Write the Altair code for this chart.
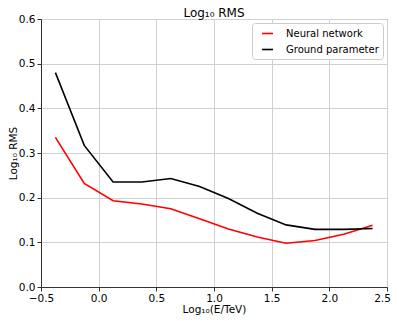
import altair as alt
import pandas as pd

energy = [-0.375, -0.125, 0.125, 0.375, 0.625, 0.875, 1.125, 1.375, 1.625, 1.875, 2.125, 2.375]
neural = [0.335, 0.232, 0.193, 0.186, 0.175, 0.153, 0.130, 0.112, 0.098, 0.104, 0.118, 0.138]
ground = [0.480, 0.317, 0.235, 0.235, 0.243, 0.225, 0.198, 0.165, 0.139, 0.129, 0.129, 0.131]
series_names = ["Neural network", "Ground parameter"]
colors = ["#ff0000", "#000000"]

rows = []
for e, v in zip(energy, neural):
    rows.append({"x": e, "y": v, "s": series_names[0]})
for e, v in zip(energy, ground):
    rows.append({"x": e, "y": v, "s": series_names[1]})
df = pd.DataFrame(rows)

font = "DejaVu Sans"

chart = alt.Chart(df).mark_line(strokeWidth=1.6).encode(
    x=alt.X("x:Q", scale=alt.Scale(domain=[-0.5, 2.5], nice=False, zero=False),
            axis=alt.Axis(title="Log₁₀(E/TeV)", values=[-0.5, 0.0, 0.5, 1.0, 1.5, 2.0, 2.5],
                          format=".1f", labelFlush=False, titlePadding=1,
                          labelOffset={"condition": {"test": "datum.value >= 2.4", "value": -5},
                                       "value": 0})),
    y=alt.Y("y:Q", scale=alt.Scale(domain=[0, 0.6], nice=False),
            axis=alt.Axis(title="Log₁₀ RMS", values=[0, 0.1, 0.2, 0.3, 0.4, 0.5, 0.6],
                          format=".1f", labelFlush=False, titlePadding=0)),
    color=alt.Color("s:N", scale=alt.Scale(domain=series_names, range=colors),
                    legend=alt.Legend(title=None, orient="top-right", symbolType="M-1,0H1",
                                      symbolStrokeWidth=1.6, symbolSize=121,
                                      strokeColor="#cccccc", fillColor="white",
                                      padding=4, labelFontSize=10, labelFont=font,
                                      labelOffset=12, symbolOffset=5,
                                      cornerRadius=3, offset=4, rowPadding=4)),
).properties(
    width=346, height=268,
    title=alt.TitleParams("Log₁₀ RMS", font=font, fontSize=12, fontWeight="normal",
                          offset=-6, frame="group"),
    padding={"left": 33, "top": 11, "right": 4, "bottom": 30},
    autosize=alt.AutoSizeParams(type="none"),
).configure_axis(
    labelFont=font, titleFont=font, labelFontSize=10.5, titleFontSize=10.5,
    titleFontWeight="normal", labelColor="black", titleColor="black",
    gridColor="#d0d0d0", domainColor="#333333", tickColor="#333333",
    tickSize=4, labelPadding=2,
).configure_view(stroke="#333333", strokeWidth=1)

chart.save("out.html", embed_options={"renderer": "svg", "actions": False})
